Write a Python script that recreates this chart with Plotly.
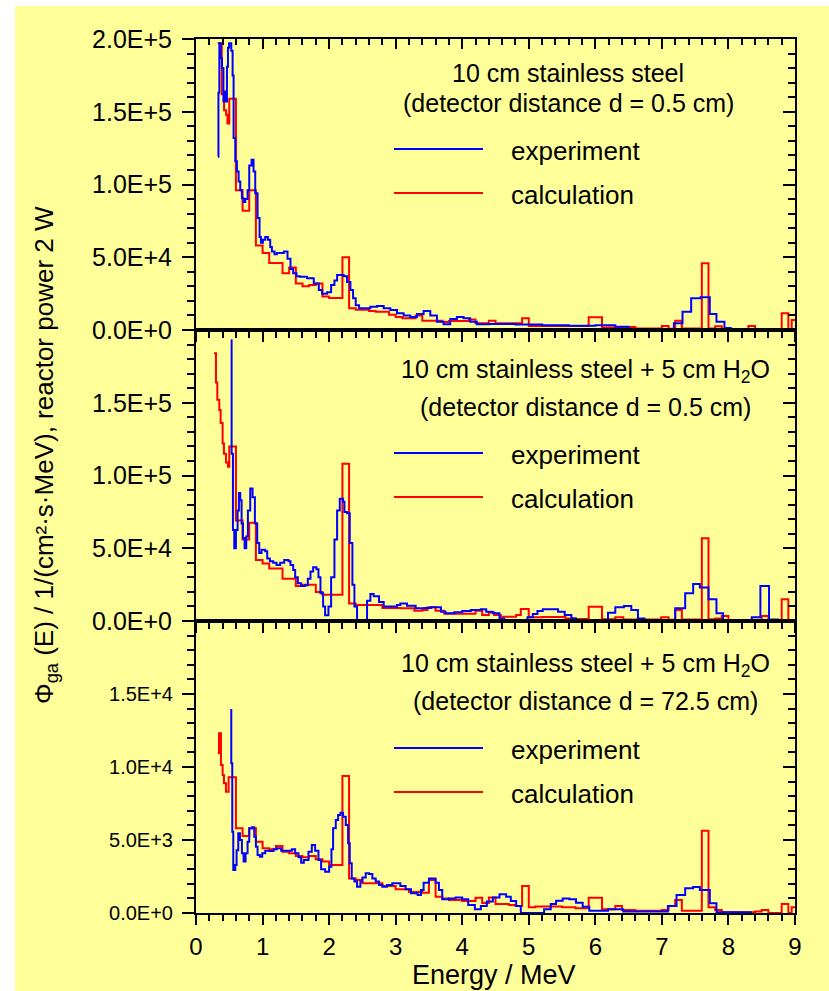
import plotly.graph_objects as go

# ---- spectra: left bin edges (MeV), flux per bin, last bin end ----
exp_top_e = [0.330, 0.337, 0.351, 0.370, 0.390, 0.412, 0.430, 0.447, 0.465, 0.480, 0.497, 0.530, 0.550, 0.565,
             0.590, 0.615, 0.640, 0.665, 0.690, 0.715, 0.740, 0.775, 0.800, 0.835, 0.865, 0.890, 0.925, 0.955,
             0.975, 1.005, 1.040, 1.080, 1.115, 1.140, 1.180, 1.215, 1.320, 1.375, 1.420, 1.460, 1.510, 1.560,
             1.670, 1.770, 1.845, 1.895, 1.970, 2.030, 2.080, 2.120, 2.220, 2.270, 2.320, 2.360, 2.400, 2.450,
             2.500, 2.620, 2.720, 2.820, 2.920, 3.020, 3.120, 3.220, 3.320, 3.420, 3.520, 3.620, 3.720, 3.820,
             3.920, 4.020, 4.120, 4.220, 4.400, 4.800, 5.200, 5.600, 6.000, 6.300, 6.500, 6.600, 7.180, 7.310,
             7.440, 7.580, 7.720, 7.820, 7.940]
exp_top_v = [119000, 163000, 197000, 187000, 180000, 157000, 164000, 157000, 181000, 194000, 197000, 192000,
             175000, 132000, 116000, 109000, 102000, 96000, 90500, 88000, 90000, 96000, 113000, 117000, 109000,
             94000, 77000, 64000, 60000, 62000, 64000, 62000, 57000, 54000, 52000, 53000, 54000, 49000, 42000,
             39000, 37000, 36600, 35500, 32000, 27500, 25000, 26000, 31000, 34000, 37800, 37000, 33000, 27500,
             21800, 17000, 15000, 15000, 16000, 16500, 15000, 13700, 11500, 10000, 9000, 11000, 13000, 10000,
             5700, 4000, 7500, 9000, 8000, 5700, 4000, 4200, 3800, 3300, 3000, 3200, 2300, 700, 300, 4600,
             12600, 21800, 22500, 11000, 5700, 1400]
exp_top_end = 8.05

calc_top_e = [0.325, 0.387, 0.422, 0.452, 0.472, 0.50, 0.60, 0.70, 0.80, 0.90, 1.00, 1.10, 1.30, 1.40, 1.50,
              1.60, 1.70, 1.80, 1.90, 2.00, 2.20, 2.30, 2.40, 2.60, 2.70, 2.90, 3.00, 3.10, 3.30, 3.40, 3.70,
              3.80, 4.10, 4.20, 4.40, 4.50, 4.90, 5.00, 5.90, 6.10, 6.40, 6.60, 7.00, 7.10, 7.20, 7.30, 7.60,
              7.70, 7.80, 7.90, 8.30, 8.40, 8.80, 8.90, 8.95]
calc_top_v = [197000, 162000, 151000, 148000, 142000, 159000, 96000, 82000, 96000, 58000, 53000, 46000, 39000,
              43000, 32000, 30000, 31000, 32000, 23000, 22000, 50000, 15000, 14000, 13000, 12600, 10500, 9000,
              8000, 10000, 6400, 5500, 6200, 7300, 4600, 6400, 4600, 8000, 2700, 8700, 1800, 2000, 1100, 2700,
              800, 6400, 1100, 45800, 1100, 2500, 500, 2700, 0, 11500, 0, 6900]
calc_top_end = 9.0

exp_mid_e = [0.525, 0.535, 0.555, 0.575, 0.600, 0.625, 0.645, 0.665, 0.685, 0.705, 0.730, 0.755, 0.780, 0.815,
             0.850, 0.885, 0.920, 0.950, 0.985, 1.040, 1.070, 1.110, 1.160, 1.210, 1.265, 1.325, 1.390, 1.420,
             1.460, 1.490, 1.530, 1.580, 1.640, 1.680, 1.720, 1.760, 1.810, 1.840, 1.870, 1.910, 1.940, 1.990,
             2.030, 2.080, 2.120, 2.160, 2.210, 2.230, 2.270, 2.310, 2.350, 2.380, 2.420, 2.570, 2.620, 2.670,
             2.750, 2.820, 3.020, 3.070, 3.170, 3.300, 3.430, 3.530, 3.680, 3.750, 3.880, 4.000, 4.130, 4.280,
             4.360, 4.460, 4.560, 4.630, 4.980, 5.060, 5.130, 5.210, 5.440, 5.540, 5.640, 5.710, 6.190, 6.300,
             6.430, 6.540, 6.640, 6.740, 7.200, 7.350, 7.470, 7.570, 7.700, 7.820, 7.920, 8.350, 8.480, 8.610,
             8.750]
exp_mid_v = [193000, 115000, 62500, 50000, 62500, 76000, 88000, 83000, 67000, 57000, 50000, 58000, 76000,
             91000, 85000, 67000, 53600, 46700, 49000, 48000, 43000, 41000, 40000, 38500, 40000, 42000, 41000,
             38500, 35000, 30000, 26000, 24000, 24500, 29000, 34000, 37000, 35500, 30000, 19000, 10000, 4000,
             10000, 30000, 56000, 76000, 84000, 82000, 75000, 74000, 53600, 25000, 10000, 0, 14000, 18500,
             17000, 13000, 10000, 11000, 12000, 10500, 8700, 9000, 9400, 6400, 5300, 6000, 6900, 7600, 8000,
             6400, 5300, 1800, 0, 2500, 4800, 6900, 8000, 6400, 4100, 1800, 0, 5700, 9400, 10300, 7600, 1800,
             0, 8700, 19000, 25400, 23000, 15000, 5300, 0, 2500, 24000, 1000, 0]
exp_mid_end = 8.80

calc_mid_e = [0.27, 0.30, 0.32, 0.35, 0.37, 0.40, 0.42, 0.45, 0.48, 0.50, 0.60, 0.70, 0.80, 0.90, 1.00, 1.10,
              1.30, 1.50, 1.60, 1.80, 1.90, 2.20, 2.30, 2.40, 2.80, 3.07, 3.28, 3.40, 3.48, 3.60, 3.73, 4.20,
              4.30, 4.40, 4.48, 4.58, 4.81, 4.88, 5.00, 5.20, 5.55, 5.70, 5.90, 6.10, 6.30, 6.42, 6.99, 7.10,
              7.20, 7.30, 7.60, 7.70, 7.80, 7.90, 8.00, 8.50, 8.60, 8.80, 8.90]
calc_mid_v = [184000, 164000, 152000, 145000, 136000, 122000, 115000, 109000, 106000, 120000, 69000, 56000,
              67500, 42000, 39600, 36000, 29000, 24000, 25000, 20000, 18000, 108000, 12000, 11000, 9000, 8700,
              7000, 7600, 9400, 7000, 5000, 7000, 4100, 5800, 4100, 3000, 4100, 8200, 2500, 2800, 1800, 1300,
              9800, 1200, 2500, 1000, 2500, 800, 7600, 1000, 56800, 1200, 1800, 3400, 500, 3400, 0, 15000, 500]
calc_mid_end = 9.0

exp_bot_e = [0.515, 0.530, 0.545, 0.560, 0.590, 0.610, 0.635, 0.660, 0.690, 0.715, 0.745, 0.775, 0.800, 0.840,
             0.875, 0.900, 0.925, 0.960, 0.995, 1.040, 1.100, 1.165, 1.215, 1.280, 1.440, 1.490, 1.540, 1.580,
             1.620, 1.690, 1.740, 1.790, 1.840, 1.880, 1.940, 2.000, 2.035, 2.060, 2.100, 2.135, 2.170, 2.210,
             2.250, 2.285, 2.310, 2.340, 2.380, 2.420, 2.470, 2.500, 2.550, 2.600, 2.650, 2.700, 2.750, 2.800,
             2.870, 2.950, 3.070, 3.150, 3.230, 3.330, 3.380, 3.420, 3.500, 3.600, 3.650, 3.700, 3.800, 3.900,
             4.000, 4.090, 4.190, 4.280, 4.370, 4.460, 4.560, 4.660, 4.730, 4.810, 4.880, 5.230, 5.330, 5.410,
             5.510, 5.610, 5.710, 5.810, 5.910, 6.190, 6.420, 7.040, 7.090, 7.220, 7.350, 7.470, 7.570, 7.720,
             7.820]
exp_bot_v = [13900, 10250, 5570, 2950, 3290, 4300, 5460, 5000, 4090, 3520, 4090, 4880, 5800, 5870, 5230, 4540,
             3970, 3860, 4090, 4270, 4250, 4360, 4430, 4270, 4360, 4090, 3810, 3450, 3630, 4200, 4660, 4270,
             3630, 2990, 2830, 3170, 4360, 5800, 6370, 6710, 6870, 6600, 6030, 4770, 3400, 2370, 2150, 1800,
             2150, 2440, 2720, 2670, 2370, 2150, 1920, 1800, 1920, 2030, 1850, 1620, 1350, 1230, 1580, 2080,
             2370, 2080, 1580, 940, 1000, 1070, 940, 550, 250, 480, 780, 1070, 1280, 1120, 820, 480, 0, 250,
             620, 840, 1000, 940, 710, 430, 160, 250, 100, 100, 480, 1230, 1700, 1780, 1580, 660, 50]
exp_bot_end = 8.35

calc_bot_e = [0.327, 0.345, 0.375, 0.400, 0.420, 0.450, 0.490, 0.600, 0.700, 0.800, 0.900, 1.000, 1.100, 1.200,
              1.300, 1.400, 1.500, 1.600, 1.700, 1.800, 1.900, 2.000, 2.200, 2.300, 2.400, 2.500, 2.800, 3.000,
              3.200, 3.400, 3.500, 3.600, 3.700, 3.800, 4.000, 4.200, 4.300, 4.400, 4.500, 4.700, 4.800, 4.900,
              5.000, 5.100, 5.500, 5.700, 5.900, 6.100, 6.300, 6.400, 6.600, 7.000, 7.100, 7.200, 7.300, 7.600,
              7.700, 7.800, 7.900, 8.400, 8.500, 8.600, 8.800, 8.900, 8.950]
calc_bot_v = [10940, 12310, 10140, 9450, 8880, 8310, 9300, 5800, 5270, 5800, 4880, 4430, 4360, 4590, 4200, 4090,
              3900, 3810, 3900, 3680, 3520, 3290, 9380, 2370, 2260, 2030, 1850, 1620, 1440, 1390, 2260, 1120,
              1000, 890, 820, 1050, 680, 1070, 620, 550, 480, 1850, 390, 450, 390, 320, 1050, 250, 480, 210, 160,
              210, 480, 890, 160, 5640, 390, 210, 50, 100, 210, 0, 620, 0, 390]
calc_bot_end = 9.0

# ---- axis tick labels ----
x_ticks = list(range(10))
y_ticks_big = [0, 50000, 100000, 150000, 200000]
y_text_top = ["0.0E+0", "5.0E+4", "1.0E+5", "1.5E+5", "2.0E+5"]
y_text_mid = ["0.0E+0", "5.0E+4", "1.0E+5", "1.5E+5", " "]
y_ticks_small = [0, 5000, 10000, 15000, 20000]
y_text_bot = ["0.0E+0", "5.0E+3", "1.0E+4", "1.5E+4", " "]

panel_line1 = ["10 cm stainless steel",
               "10 cm stainless steel + 5 cm H<sub>2</sub>O",
               "10 cm stainless steel + 5 cm H<sub>2</sub>O"]
panel_line2 = ["(detector distance d = 0.5 cm)",
               "(detector distance d = 0.5 cm)",
               "(detector distance d = 72.5 cm)"]
series_names = ["experiment", "calculation"]

BLUE = "#0000FF"
RED = "#FF0000"
YELLOW = "#FFFF99"
FONT = "Liberation Sans, Arial, sans-serif"

W, H = 829, 991
L, R, T, B = 196, 34, 39, 78
PW, PH = W - L - R, H - T - B


def pxx(p):
    return (p - L) / PW


def pxy(p):
    return (H - B - p) / PH


def steps(lefts, vals, end):
    pairs = list(zip(lefts, vals))
    xs = [e for e, _ in pairs] + [end]
    ys = [v for _, v in pairs] + [pairs[-1][1]]
    return xs, ys


fig = go.Figure()

panels = [
    ("x", "y", exp_top_e, exp_top_v, exp_top_end, calc_top_e, calc_top_v, calc_top_end),
    ("x2", "y2", exp_mid_e, exp_mid_v, exp_mid_end, calc_mid_e, calc_mid_v, calc_mid_end),
    ("x3", "y3", exp_bot_e, exp_bot_v, exp_bot_end, calc_bot_e, calc_bot_v, calc_bot_end),
]
for xa, ya, ee, ev, eend, ce, cv, cend in panels:
    cx, cy = steps(ce, cv, cend)
    fig.add_trace(go.Scatter(x=cx, y=cy, xaxis=xa, yaxis=ya, mode="lines", line_shape="hv",
                             line=dict(color=RED, width=2), showlegend=False, hoverinfo="skip"))
    ex, ey = steps(ee, ev, eend)
    fig.add_trace(go.Scatter(x=ex, y=ey, xaxis=xa, yaxis=ya, mode="lines", line_shape="hv",
                             line=dict(color=BLUE, width=2), showlegend=False, hoverinfo="skip"))

# empty traces so the tick-only overlay axes are drawn
for xa, ya in [("x", "y4"), ("x2", "y5"), ("x3", "y6"), ("x4", "y")]:
    fig.add_trace(go.Scatter(x=[None], y=[None], xaxis=xa, yaxis=ya, mode="lines",
                             showlegend=False, hoverinfo="skip"))

dom_top = [pxy(330), 1.0]
dom_mid = [pxy(621), pxy(330)]
dom_bot = [0.0, pxy(621)]

tick_style = dict(tickwidth=2, tickcolor="black", showgrid=False, zeroline=False)


def xaxis(anchor, labels):
    return dict(anchor=anchor, domain=[0, 1], range=[0, 9], tickmode="array", tickvals=x_ticks,
                ticktext=[str(t) for t in x_ticks], ticks="outside", ticklen=10,
                showline=True, linewidth=2, linecolor="black", mirror=True,
                showticklabels=labels, tickfont=dict(family=FONT, size=24, color="black"),
                ticklabelstandoff=1,
                minor=dict(tickmode="linear", tick0=0, dtick=0.2, ticks="outside", ticklen=6,
                           tickwidth=2, tickcolor="black", showgrid=False),
                **tick_style)


def yaxis(anchor, dom, vals, text, rng, minor_dt, size):
    return dict(anchor=anchor, domain=dom, range=rng, tickmode="array", tickvals=vals, ticktext=text,
                ticks="outside", ticklen=12, showline=True, linewidth=2, linecolor="black", mirror=True,
                tickfont=dict(family=FONT, size=size, color="black"), ticklabelstandoff=5,
                minor=dict(tickmode="linear", tick0=0, dtick=minor_dt, ticks="outside", ticklen=7,
                           tickwidth=2, tickcolor="black", showgrid=False),
                **tick_style)


def yright(over, anchor, vals, rng, minor_dt):
    return dict(overlaying=over, anchor=anchor, side="right", range=rng, tickmode="array",
                tickvals=vals, ticks="inside", ticklen=12, showticklabels=False, showline=False,
                minor=dict(tickmode="linear", tick0=0, dtick=minor_dt, ticks="inside", ticklen=7,
                           tickwidth=2, tickcolor="black", showgrid=False),
                **tick_style)


big = [0, 200000]
small = [0, 20000]

fig.update_layout(
    width=W, height=H,
    margin=dict(l=L, r=R, t=T, b=B, pad=0),
    paper_bgcolor=YELLOW, plot_bgcolor=YELLOW,
    font=dict(family=FONT, size=26, color="black"),
    xaxis=xaxis("y", False),
    xaxis2=xaxis("y2", False),
    xaxis3=xaxis("y3", True),
    xaxis4=dict(overlaying="x", anchor="y", side="top", range=[0, 9], tickmode="linear", tick0=0,
                dtick=1, ticks="inside", ticklen=10, showticklabels=False, showline=False,
                minor=dict(tickmode="linear", tick0=0, dtick=0.2, ticks="inside", ticklen=6,
                           tickwidth=2, tickcolor="black", showgrid=False),
                **tick_style),
    yaxis=yaxis("x", dom_top, y_ticks_big, y_text_top, big, 10000, 25),
    yaxis2=yaxis("x2", dom_mid, y_ticks_big, y_text_mid, big, 10000, 25),
    yaxis3=yaxis("x3", dom_bot, y_ticks_small, y_text_bot, small, 1000, 20),
    yaxis4=yright("y", "x", y_ticks_big, big, 10000),
    yaxis5=yright("y2", "x2", y_ticks_big, big, 10000),
    yaxis6=yright("y3", "x3", y_ticks_small, small, 1000),
)

shapes = [
    # white border strips around the yellow sheet
    dict(type="rect", xref="paper", yref="paper", x0=pxx(0), x1=pxx(W), y0=pxy(6), y1=pxy(0),
         fillcolor="white", line_width=0, layer="below"),
    dict(type="rect", xref="paper", yref="paper", x0=pxx(0), x1=pxx(15), y0=pxy(H), y1=pxy(0),
         fillcolor="white", line_width=0, layer="below"),
]
annotations = []

# panel captions and line keys
caption_cx = [568, 585, 585]
line1_y = [73, 371, 665]
line2_y = [103, 407, 701]
key_y = [(149, 193), (453, 497), (748, 792)]
for i in range(3):
    annotations.append(dict(xref="paper", yref="paper", x=pxx(caption_cx[i]), y=pxy(line1_y[i]),
                            text=panel_line1[i], showarrow=False, xanchor="center", yanchor="middle",
                            font=dict(size=25)))
    annotations.append(dict(xref="paper", yref="paper", x=pxx(caption_cx[i]), y=pxy(line2_y[i]),
                            text=panel_line2[i], showarrow=False, xanchor="center", yanchor="middle",
                            font=dict(size=25)))
    for name, color, ky in zip(series_names, [BLUE, RED], key_y[i]):
        shapes.append(dict(type="line", xref="paper", yref="paper", x0=pxx(394), x1=pxx(483),
                           y0=pxy(ky), y1=pxy(ky), line=dict(color=color, width=2)))
        annotations.append(dict(xref="paper", yref="paper", x=pxx(509), y=pxy(ky + 2), text=name,
                                showarrow=False, xanchor="left", yanchor="middle", font=dict(size=26)))

annotations.append(dict(xref="paper", yref="paper", x=pxx(494), y=pxy(975), text="Energy / MeV",
                        showarrow=False, xanchor="center", yanchor="middle", font=dict(size=27)))
annotations.append(dict(xref="paper", yref="paper", x=pxx(45), y=pxy(455),
                        text="Φ<sub>ga</sub> (E) / 1/(cm²·s·MeV), reactor power 2 W",
                        textangle=-90, showarrow=False, xanchor="center", yanchor="middle",
                        font=dict(size=26)))

fig.update_layout(shapes=shapes, annotations=annotations)
fig.write_html("out.html")
